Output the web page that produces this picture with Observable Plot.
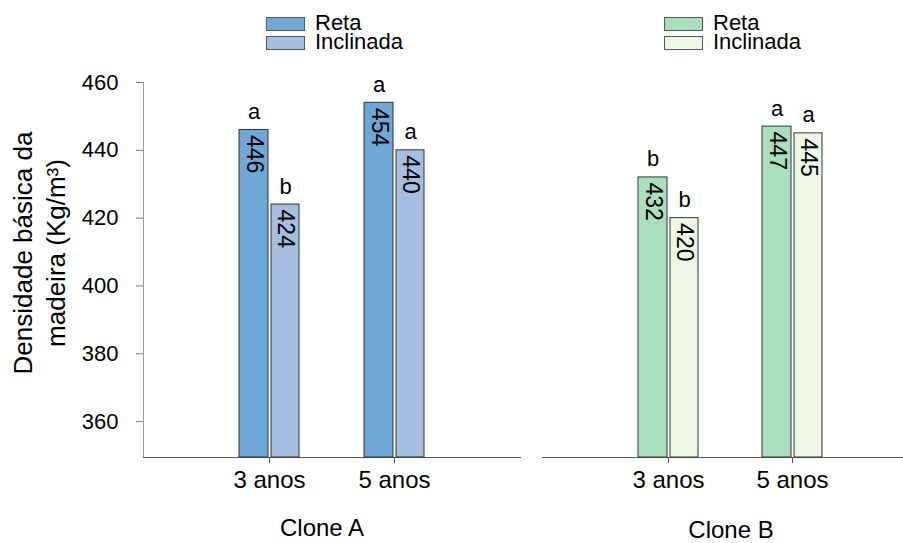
<!DOCTYPE html>
<html>
<head>
<meta charset="utf-8">
<script src="https://cdn.jsdelivr.net/npm/d3@7"></script>
<script src="https://cdn.jsdelivr.net/npm/@observablehq/plot@0.6"></script>
<style>
  html, body { margin: 0; padding: 0; background: #fff; overflow: hidden; }
  #root { position: relative; width: 903px; height: 543px; overflow: hidden; font-family: "Liberation Sans", Arial, sans-serif; color: #000; }
  .abs { position: absolute; white-space: nowrap; line-height: 0.8; }
  .leg { position: absolute; white-space: pre; font-size: 22px; line-height: 19px; }
  .sw { position: absolute; box-sizing: border-box; border: 1px solid #555; }
</style>
</head>
<body>
<div id="root"></div>
<script>
// ---- data ----
const years = ["3 anos", "5 anos"];
const seriesNames = ["Reta", "Inclinada"];
const cloneARetaValues = [446, 454];
const cloneAInclinadaValues = [424, 440];
const cloneBRetaValues = [432, 447];
const cloneBInclinadaValues = [420, 445];
const cloneARetaLetters = ["a", "a"];
const cloneAInclinadaLetters = ["b", "a"];
const cloneBRetaLetters = ["b", "a"];
const cloneBInclinadaLetters = ["b", "a"];
const yTicks = [360, 380, 400, 420, 440, 460];
const yDomain = [349.4, 460];
const panelTitles = ["Clone A", "Clone B"];
const yLabelLines = ["Densidade básica da", "madeira (Kg/m³)"];
const colorsA = ["#6fa8d6", "#a6bfe0"];
const colorsB = ["#a9dfbb", "#eff8e4"];

function rows(reta, incl, lr, li) {
  const out = [];
  years.forEach((y, i) => {
    out.push({year: y, series: seriesNames[0], value: reta[i], letter: lr[i]});
    out.push({year: y, series: seriesNames[1], value: incl[i], letter: li[i]});
  });
  return out;
}
const dataA = rows(cloneARetaValues, cloneAInclinadaValues, cloneARetaLetters, cloneAInclinadaLetters);
const dataB = rows(cloneBRetaValues, cloneBInclinadaValues, cloneBRetaLetters, cloneBInclinadaLetters);

function panel({data, colors, showY, width, marginLeft}) {
  const marks = [];
  if (showY) {
    marks.push(Plot.frame({anchor: "left", stroke: "#9a9a9a"}));
    marks.push(Plot.axisY({ticks: yTicks, tickSize: 7, tickPadding: 18, stroke: "#777", fill: "#000", fontSize: 22, label: null}));
  }
  marks.push(Plot.frame({anchor: "bottom", stroke: "#555"}));
  marks.push(Plot.axisX({tickSize: 6, tickPadding: 7, stroke: "#555", fill: "#000", fontSize: 24, label: null}));
  seriesNames.forEach((s, i) => {
    const sub = data.filter(d => d.series === s);
    const off = i === 0 ? -15.5 : 16;
    marks.push(Plot.barY(sub, {
      x: "year", y1: yDomain[0], y2: "value",
      fill: colors[i], stroke: "#333", strokeWidth: 1,
      insetLeft: i === 0 ? 0 : 32, insetRight: i === 0 ? 31 : 0
    }));
    marks.push(Plot.text(sub, {
      x: "year", y: "value", text: d => String(d.value),
      rotate: 90, textAnchor: "start", dx: off, dy: 5, fontSize: 23, fill: "#000"
    }));
    marks.push(Plot.text(sub, {
      x: "year", y: "value", text: "letter", dx: off, dy: -18, fontSize: 22, fill: "#000"
    }));
  });
  return Plot.plot({
    width, height: 500,
    marginLeft, marginRight: 0, marginTop: 82, marginBottom: 43,
    style: {fontFamily: "'Liberation Sans', Arial, sans-serif", fontSize: "22px", background: "transparent", color: "#000", overflow: "visible"},
    x: {domain: years, paddingInner: 0.52, paddingOuter: 0.768, align: 0.5},
    y: {domain: yDomain, axis: showY ? undefined : null},
    marks
  });
}

const root = document.getElementById("root");

const left = panel({data: dataA, colors: colorsA, showY: true, width: 520, marginLeft: 143});
left.style.position = "absolute"; left.style.left = "0px"; left.style.top = "0px";
root.appendChild(left);

const right = panel({data: dataB, colors: colorsB, showY: false, width: 375, marginLeft: 0});
right.style.position = "absolute"; right.style.left = "542px"; right.style.top = "0px"; right.style.maxWidth = "none";
root.appendChild(right);

// line-height 0.8 => baseline offset from box top = ((0.8 - 1.117)/2 + 0.905) * size
function textAt(str, x, baseline, size, anchor) {
  const d = document.createElement("div");
  d.className = "abs";
  d.textContent = str;
  d.style.fontSize = size + "px";
  d.style.top = (baseline - 0.7465 * size) + "px";
  d.style.left = x + "px";
  if (anchor === "middle") d.style.transform = "translateX(-50%)";
  root.appendChild(d);
}
function swatch(x, y, w, h, color) {
  const d = document.createElement("div");
  d.className = "sw";
  d.style.left = x + "px"; d.style.top = y + "px";
  d.style.width = w + "px"; d.style.height = h + "px";
  d.style.background = color;
  root.appendChild(d);
}

// legends (one text block, two lines, 19px line spacing)
[[266, colorsA], [664, colorsB]].forEach(([x0, cols]) => {
  swatch(x0, 17, 39, 14, cols[0]);
  swatch(x0, 36, 39, 14, cols[1]);
  const lg = document.createElement("div");
  lg.className = "leg";
  lg.textContent = seriesNames.join("\n");
  // first baseline = top + (19 - 1.117*22)/2 + 0.905*22
  lg.style.top = (30 - ((19 - 1.117 * 22) / 2 + 0.905 * 22)) + "px";
  lg.style.left = (x0 + 49) + "px";
  root.appendChild(lg);
});

// panel titles
textAt(panelTitles[0], 322, 536, 24, "middle");
textAt(panelTitles[1], 731, 537.5, 24, "middle");

// y label
const yl = document.createElement("div");
yl.style.position = "absolute";
yl.style.width = "320px";
yl.style.height = "66px";
yl.style.left = (40 - 160) + "px";
yl.style.top = (253 - 33) + "px";
yl.style.textAlign = "center";
yl.style.fontSize = "26px";
yl.style.lineHeight = "33px";
yl.style.transform = "rotate(-90deg)";
yl.style.transformOrigin = "50% 50%";
yl.innerHTML = yLabelLines.map(s => `<div>${s}</div>`).join("");
root.appendChild(yl);
</script>
</body>
</html>
